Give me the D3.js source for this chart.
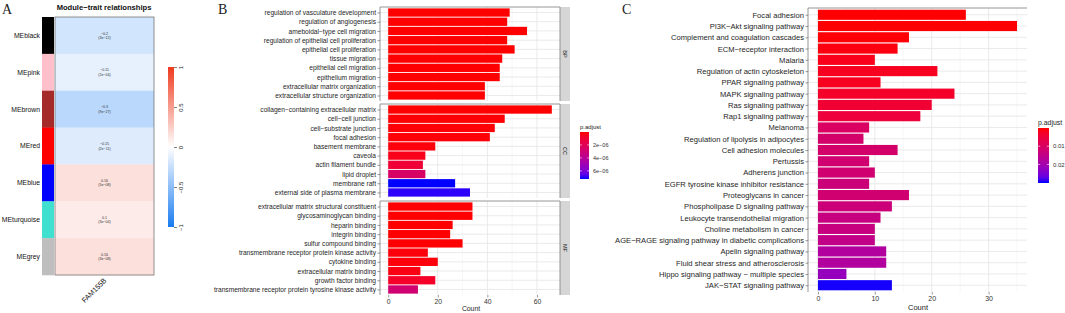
<!DOCTYPE html>
<html>
<head>
<meta charset="utf-8">
<script src="https://cdn.jsdelivr.net/npm/d3@7"></script>
<style>
  body { margin: 0; background: #fff; }
  svg text { font-family: "Liberation Sans", Arial, sans-serif; }
</style>
</head>
<body>
<div id="fig"></div>
<script>
// ---------- panel A : module-trait heatmap
var modules = ["MEblack", "MEpink", "MEbrown", "MEred", "MEblue", "MEturquoise", "MEgrey"];
var moduleColors = ["#000000", "#FFC0CB", "#A52A2A", "#FF0000", "#0000FF", "#40E0D0", "#BEBEBE"];
var moduleCor = [-0.2, -0.11, -0.3, -0.15, 0.16, 0.1, 0.16];
var modulePval = ["3e−12", "2e−04", "9e−27", "2e−11", "5e−08", "3e−04", "3e−08"];
var traitName = "FAM155B";
var corTicks = [-1, -0.5, 0, 0.5, 1];

// ---------- panel B : GO enrichment
var bpTerms = ["regulation of vasculature development", "regulation of angiogenesis", "ameboidal−type cell migration",
  "regulation of epithelial cell proliferation", "epithelial cell proliferation", "tissue migration",
  "epithelial cell migration", "epithelium migration", "extracellular matrix organization", "extracellular structure organization"];
var bpCount = [49, 48, 56, 48, 51, 46, 45, 45, 39, 39];
var bpPadj = [1e-8, 1e-8, 1e-8, 2e-8, 2e-8, 3e-8, 3e-8, 3e-8, 1e-8, 1e-8];

var ccTerms = ["collagen−containing extracellular matrix", "cell−cell junction", "cell−substrate junction", "focal adhesion",
  "basement membrane", "caveola", "actin filament bundle", "lipid droplet", "membrane raft", "external side of plasma membrane"];
var ccCount = [66, 47, 43, 41, 19, 15, 14, 15, 27, 33];
var ccPadj = [1e-8, 5e-8, 8e-8, 1e-7, 1.5e-7, 4e-7, 1.1e-6, 2.5e-6, 7.25e-6, 7.1e-6];

var mfTerms = ["extracellular matrix structural constituent", "glycosaminoglycan binding", "heparin binding", "integrin binding",
  "sulfur compound binding", "transmembrane receptor protein kinase activity", "cytokine binding",
  "extracellular matrix binding", "growth factor binding", "transmembrane receptor protein tyrosine kinase activity"];
var mfCount = [34, 34, 26, 25, 30, 16, 20, 13, 19, 12];
var mfPadj = [1e-8, 1e-8, 2e-8, 3e-8, 3e-8, 1.5e-7, 1.5e-7, 2.5e-7, 7e-7, 2.9e-6];

var goTicks = [0, 20, 40, 60];
var goLegendTicks = [2e-6, 4e-6, 6e-6];

// ---------- panel C : KEGG enrichment
var keggTerms = ["Focal adhesion", "PI3K−Akt signaling pathway", "Complement and coagulation cascades", "ECM−receptor interaction",
  "Malaria", "Regulation of actin cytoskeleton", "PPAR signaling pathway", "MAPK signaling pathway", "Ras signaling pathway",
  "Rap1 signaling pathway", "Melanoma", "Regulation of lipolysis in adipocytes", "Cell adhesion molecules", "Pertussis",
  "Adherens junction", "EGFR tyrosine kinase inhibitor resistance", "Proteoglycans in cancer", "Phospholipase D signaling pathway",
  "Leukocyte transendothelial migration", "Choline metabolism in cancer", "AGE−RAGE signaling pathway in diabetic complications",
  "Apelin signaling pathway", "Fluid shear stress and atherosclerosis", "Hippo signaling pathway − multiple species",
  "JAK−STAT signaling pathway"];
var keggCount = [26, 35, 16, 14, 10, 21, 11, 24, 20, 18, 9, 8, 14, 9, 10, 9, 16, 13, 11, 10, 10, 12, 12, 5, 13];
var keggPadj = [0.0001, 0.0002, 0.0003, 0.0008, 0.0015, 0.002, 0.002, 0.003, 0.004, 0.005, 0.010, 0.011, 0.011, 0.012,
  0.012, 0.013, 0.012, 0.013, 0.014, 0.014, 0.015, 0.018, 0.018, 0.022, 0.030];
var keggTicks = [0, 10, 20, 30];
var keggLegendTicks = [0.01, 0.02];

var W = 1065, H = 313;
var svg = d3.select("#fig").append("svg").attr("width", W).attr("height", H);
var defs = svg.append("defs");

var minus = function(s) { return String(s).replace("-", "−"); };

// panel letters
[["A", 2], ["B", 218], ["C", 622]].forEach(function(p) {
  svg.append("text").attr("x", p[1]).attr("y", 14).text(p[0])
    .style("font-family", "'Liberation Serif', serif").style("font-size", "14px").attr("fill", "#222");
});

// =============== A
var aRow = d3.scaleBand().domain(modules).range([17, 275]);
var corColor = d3.scaleLinear().domain([-1, 0, 1]).range(["#1a7cf0", "#ffffff", "#ef3b1f"]);
var gA = svg.append("g");

gA.selectAll("rect.mod").data(modules).join("rect")
  .attr("x", 42).attr("width", 12)
  .attr("y", function(d) { return aRow(d); })
  .attr("height", aRow.bandwidth() + 0.3)
  .attr("fill", function(d, i) { return moduleColors[i]; });

gA.selectAll("rect.cell").data(modules).join("rect")
  .attr("x", 55).attr("width", 99)
  .attr("y", function(d) { return aRow(d); })
  .attr("height", aRow.bandwidth() + 0.3)
  .attr("fill", function(d, i) { return corColor(moduleCor[i]); });

gA.append("rect").attr("x", 55).attr("y", 17).attr("width", 99).attr("height", 258)
  .attr("fill", "none").attr("stroke", "#777").attr("stroke-width", 0.8);

// correlation + p value text in cells
modules.forEach(function(m, i) {
  var cy = aRow(m) + aRow.bandwidth() / 2;
  gA.append("text").attr("x", 104.5).attr("y", cy - 0.8).attr("text-anchor", "middle")
    .style("font-size", "3.6px").attr("fill", "#333").text(minus(moduleCor[i]));
  gA.append("text").attr("x", 104.5).attr("y", cy + 3.6).attr("text-anchor", "middle")
    .style("font-size", "3.6px").attr("fill", "#333").text("(" + modulePval[i] + ")");
});

gA.selectAll("text.row").data(modules).join("text")
  .attr("x", 40).attr("y", function(d) { return aRow(d) + aRow.bandwidth() / 2; })
  .attr("dy", "0.35em").attr("text-anchor", "end")
  .style("font-size", "6.8px").attr("fill", "#111").text(function(d) { return d; });

gA.append("text").attr("x", 104).attr("y", 10).attr("text-anchor", "middle")
  .style("font-size", "7.6px").style("font-weight", "bold").attr("fill", "#111")
  .text("Module−trait relationships");

gA.append("text").attr("transform", "translate(107,281) rotate(-45)")
  .attr("text-anchor", "end").style("font-size", "7.2px").attr("fill", "#111").text(traitName);

// colour bar
var cbGrad = defs.append("linearGradient").attr("id", "cbGrad")
  .attr("x1", 0).attr("y1", 1).attr("x2", 0).attr("y2", 0);
corTicks.forEach(function(v) {
  cbGrad.append("stop").attr("offset", (v + 1) / 2).attr("stop-color", corColor(v));
});
var cbY = d3.scaleLinear().domain([-1, 1]).range([227, 67]);
gA.append("rect").attr("x", 168).attr("y", 67).attr("width", 6).attr("height", 160).attr("fill", "url(#cbGrad)");
var cbAxis = gA.append("g").attr("transform", "translate(174,0)")
  .call(d3.axisRight(cbY).tickValues(corTicks).tickSize(3).tickFormat(function(d) { return minus(d); }));
cbAxis.select(".domain").remove();
cbAxis.selectAll("line").attr("stroke", "#333").attr("stroke-width", 0.6);
cbAxis.selectAll("text").attr("x", null).attr("dy", null)
  .attr("transform", "translate(9,0) rotate(-90)").attr("text-anchor", "middle")
  .style("font-size", "6px").attr("fill", "#222");

// =============== shared bar-chart helper
function drawBarPanel(g, terms, counts, padj, x, top, bottom, color, ticks, minorTicks, fontSize) {
  var y = d3.scalePoint().domain(terms).range([top, bottom]).padding(0.6);
  var step = y.step();
  var x0 = x.range()[0], x1 = x.range()[1];

  g.append("rect").attr("x", x0).attr("y", top).attr("width", x1 - x0).attr("height", bottom - top).attr("fill", "#fff");

  // grid
  g.selectAll("line.minor").data(minorTicks).join("line")
    .attr("x1", function(d) { return x(d); }).attr("x2", function(d) { return x(d); })
    .attr("y1", top).attr("y2", bottom).attr("stroke", "#f2f2f2").attr("stroke-width", 0.6);
  g.selectAll("line.major").data(ticks).join("line")
    .attr("x1", function(d) { return x(d); }).attr("x2", function(d) { return x(d); })
    .attr("y1", top).attr("y2", bottom).attr("stroke", "#e4e4e4").attr("stroke-width", 0.8);
  g.selectAll("line.hgrid").data(terms).join("line")
    .attr("x1", x0).attr("x2", x1)
    .attr("y1", function(d) { return y(d); }).attr("y2", function(d) { return y(d); })
    .attr("stroke", "#e4e4e4").attr("stroke-width", 0.8);

  // bars
  g.selectAll("rect.bar").data(terms).join("rect")
    .attr("x", x(0))
    .attr("y", function(d) { return y(d) - step * 0.45; })
    .attr("height", step * 0.9)
    .attr("width", function(d, i) { return x(counts[i]) - x(0); })
    .attr("fill", function(d, i) { return color(padj[i]); });

  // left + top border
  g.append("path").attr("d", "M" + x0 + "," + bottom + "V" + top + "H" + x1)
    .attr("fill", "none").attr("stroke", "#8a8a8a").attr("stroke-width", 0.9);

  var yAxis = g.append("g").attr("transform", "translate(" + x0 + ",0)")
    .call(d3.axisLeft(y).tickSize(2.5).tickPadding(1.5));
  yAxis.select(".domain").remove();
  yAxis.selectAll("line").attr("stroke", "#555").attr("stroke-width", 0.6);
  yAxis.selectAll("text").style("font-size", fontSize).attr("fill", "#1e1e1e");
  return y;
}

function drawLegend(g, color, x, y, w, h, ticks, fmt, title, titleSize, labelSize, id) {
  var dom = color.domain();
  var grad = defs.append("linearGradient").attr("id", id).attr("x1", 0).attr("y1", 0).attr("x2", 0).attr("y2", 1);
  d3.range(0, 1.0001, 0.1).forEach(function(t) {
    grad.append("stop").attr("offset", t).attr("stop-color", color(dom[0] + t * (dom[1] - dom[0])));
  });
  g.append("text").attr("x", x).attr("y", y - 3).style("font-size", titleSize).attr("fill", "#222").text(title);
  g.append("rect").attr("x", x).attr("y", y).attr("width", w).attr("height", h).attr("fill", "url(#" + id + ")");
  var ly = d3.scaleLinear().domain(dom).range([y, y + h]);
  ticks.forEach(function(t) {
    g.append("line").attr("x1", x).attr("x2", x + w * 0.2).attr("y1", ly(t)).attr("y2", ly(t)).attr("stroke", "#fff").attr("stroke-width", 0.6);
    g.append("line").attr("x1", x + w * 0.8).attr("x2", x + w).attr("y1", ly(t)).attr("y2", ly(t)).attr("stroke", "#fff").attr("stroke-width", 0.6);
    g.append("text").attr("x", x + w + 4).attr("y", ly(t)).attr("dy", "0.35em")
      .style("font-size", labelSize).attr("fill", "#333").text(fmt(t));
  });
}

// =============== B
var gB = svg.append("g");
var bx = d3.scaleLinear().domain([-3.3, 69.3]).range([380, 560]);
var goColor = d3.scaleLinear()
  .domain(d3.extent(bpPadj.concat(ccPadj, mfPadj)))
  .range(["red", "blue"]).interpolate(d3.interpolateLab);

var goPanels = [
  { label: "BP", terms: bpTerms, count: bpCount, padj: bpPadj, top: 7, bottom: 101 },
  { label: "CC", terms: ccTerms, count: ccCount, padj: ccPadj, top: 104, bottom: 198 },
  { label: "MF", terms: mfTerms, count: mfCount, padj: mfPadj, top: 201, bottom: 295 }
];
goPanels.forEach(function(p) {
  var g = gB.append("g");
  drawBarPanel(g, p.terms, p.count, p.padj, bx, p.top, p.bottom, goColor, goTicks, [10, 30, 50], "6.6px");
  // facet strip
  g.append("rect").attr("x", 560).attr("y", p.top).attr("width", 10).attr("height", p.bottom - p.top)
    .attr("fill", "#d6d6d6");
  g.append("line").attr("x1", 560).attr("x2", 560).attr("y1", p.top).attr("y2", p.bottom)
    .attr("stroke", "#8a8a8a").attr("stroke-width", 0.9);
  g.append("text").attr("transform", "translate(565," + ((p.top + p.bottom) / 2) + ") rotate(90)")
    .attr("text-anchor", "middle").attr("dy", "0.35em").style("font-size", "5.5px").attr("fill", "#222").text(p.label);
});
var bxAxis = gB.append("g").attr("transform", "translate(0,295)")
  .call(d3.axisBottom(bx).tickValues(goTicks).tickSize(2.5).tickPadding(1.5));
bxAxis.select(".domain").remove();
bxAxis.selectAll("line").attr("stroke", "#555").attr("stroke-width", 0.6);
bxAxis.selectAll("text").style("font-size", "6.8px").attr("fill", "#333");
gB.append("text").attr("x", 471).attr("y", 311).attr("text-anchor", "middle")
  .style("font-size", "6.8px").attr("fill", "#222").text("Count");

drawLegend(gB, goColor, 580, 132, 9, 47, goLegendTicks,
  function(t) { return d3.format(".0e")(t).replace("e-", "e−0"); }, "p.adjust", "6px", "5.5px", "goGrad");

// =============== C
var gC = svg.append("g");
var cx = d3.scaleLinear().domain([-1.75, 36.75]).range([808, 1027]);
var keggColor = d3.scaleLinear().domain([0.00002, 0.0302])
  .range(["red", "blue"]).interpolate(d3.interpolateLab);

drawBarPanel(gC, keggTerms, keggCount, keggPadj, cx, 8, 292, keggColor, keggTicks, [5, 15, 25, 35], "7.6px");
var cxAxis = gC.append("g").attr("transform", "translate(0,292)")
  .call(d3.axisBottom(cx).tickValues(keggTicks).tickSize(2.5).tickPadding(1.5));
cxAxis.select(".domain").remove();
cxAxis.selectAll("line").attr("stroke", "#555").attr("stroke-width", 0.6);
cxAxis.selectAll("text").style("font-size", "7px").attr("fill", "#333");
gC.append("text").attr("x", 918).attr("y", 310).attr("text-anchor", "middle")
  .style("font-size", "7.5px").attr("fill", "#222").text("Count");

drawLegend(gC, keggColor, 1038, 128, 11, 55, keggLegendTicks,
  function(t) { return String(t); }, "p.adjust", "6.9px", "6px", "keggGrad");
</script>
</body>
</html>
